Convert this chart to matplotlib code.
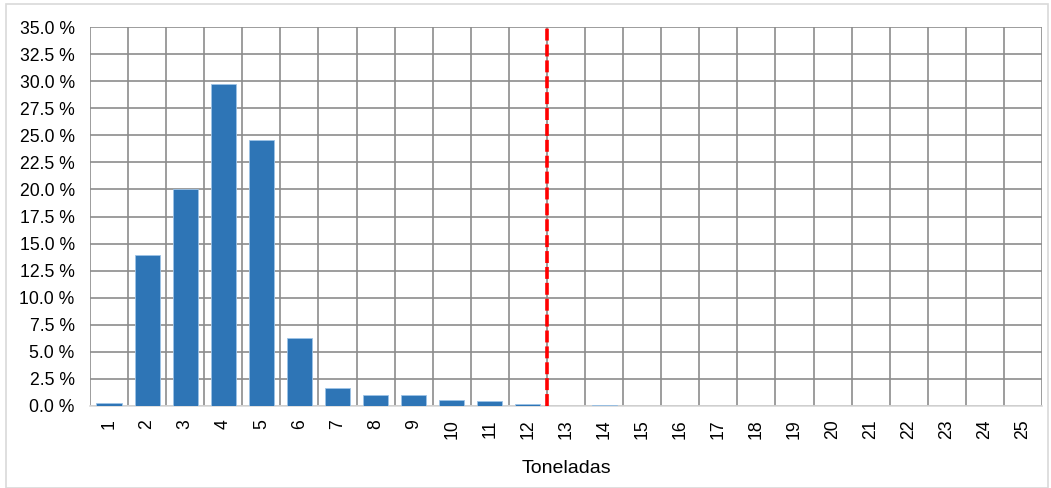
import matplotlib
matplotlib.use("Agg")
import matplotlib.pyplot as plt
from matplotlib.patches import Rectangle
from matplotlib.ticker import FuncFormatter, MultipleLocator

plt.rcParams["font.family"] = ["Liberation Sans", "DejaVu Sans"]

categories = [str(i) for i in range(1, 26)]
shares = [0.25, 13.9, 20.0, 29.7, 24.6, 6.3, 1.7, 1.0, 0.97, 0.6, 0.45, 0.22,
          0.02, 0.08, 0, 0, 0, 0, 0, 0, 0, 0, 0, 0, 0]
limit_position = 12.5

fig = plt.figure(figsize=(10.51, 4.88), dpi=100)
fig.patches.append(Rectangle((6 / 1051, 0), 1042 / 1051, 484 / 488,
                             transform=fig.transFigure, fill=False,
                             edgecolor="#d9d9d9", linewidth=1.2))
ax = fig.add_axes([90 / 1051, 1 - 406 / 488, 952 / 1051, 379 / 488])

x = list(range(1, 26))
ax.bar(x, shares, width=0.66, color="#2E75B6", edgecolor="#9DC3E6",
       linewidth=0.6, zorder=3)
ax.axvline(limit_position, color="#FF0000", linestyle=(0, (3.3, 1.1)),
           linewidth=2.6, zorder=4)

ax.set_xlim(0.5, 25.5)
ax.set_ylim(0, 35)
ax.yaxis.set_major_locator(MultipleLocator(2.5))
ax.yaxis.set_major_formatter(FuncFormatter(lambda v, _: f"{v:.1f} %"))
ax.set_xticks(x)
ax.set_xticklabels(categories, rotation=90)
ax.set_xticks([i + 0.5 for i in range(0, 26)], minor=True)

ax.grid(False)
ax.grid(True, which="minor", axis="x", color="#8c8c8c", linewidth=1.2, zorder=0)
ax.grid(True, which="major", axis="y", color="#8c8c8c", linewidth=1.2, zorder=0)

for side in ["top", "right", "left"]:
    ax.spines[side].set_visible(False)
ax.spines["bottom"].set_color("#d9d9d9")
ax.spines["bottom"].set_linewidth(1.2)

ax.tick_params(axis="both", which="both", length=0, labelsize=12.7, colors="black")
ax.tick_params(axis="x", pad=9.5)
ax.tick_params(axis="y", pad=11)
ax.set_xlabel("Toneladas", fontsize=14, labelpad=15)

fig.savefig("out.png", dpi=100)
